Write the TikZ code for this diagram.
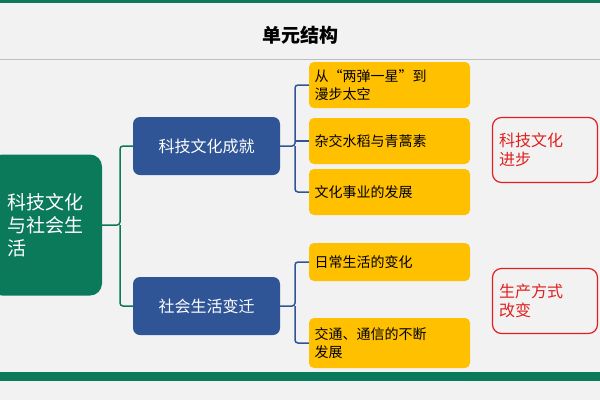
\documentclass[tikz,border=0pt]{standalone}
\usepackage{fontspec}
\newfontfamily\cjk{Noto Sans CJK SC}
\definecolor{bgray}{HTML}{F2F2F2}
\definecolor{dgreen}{HTML}{0B7A5A}
\definecolor{dblue}{HTML}{2F5597}
\definecolor{gold}{HTML}{FFC000}
\definecolor{dred}{HTML}{E02020}
\tikzset{
  rootbox/.style={fill=dgreen,rounded corners=12pt,text=white,font=\cjk\fontsize{19}{23}\selectfont,align=left,minimum width=112pt,minimum height=141pt,inner sep=2pt},
  topicbox/.style={fill=dblue,rounded corners=7pt,text=white,font=\cjk\fontsize{16}{19}\selectfont,minimum width=147pt,minimum height=58pt},
  itembox/.style={fill=gold,rounded corners=5pt,font=\cjk\fontsize{14}{18}\selectfont,align=left,minimum width=161pt,text width=150pt,inner sep=5pt},
  notebox/.style={draw=dred,line width=1.2pt,rounded corners=9pt,text=dred,font=\cjk\fontsize{16}{19}\selectfont,align=left,minimum width=105pt,minimum height=65pt,text width=92pt},
  gline/.style={draw=dgreen,line width=1.5pt,rounded corners=3pt},
  bline/.style={draw=dblue,line width=1.5pt,rounded corners=3pt}
}
\begin{document}
\begin{tikzpicture}[x=1pt,y=-1pt]
  \useasboundingbox (0,0) rectangle (600,400);
  \fill[bgray] (0,0) rectangle (600,400);
  \fill[dgreen] (0,0) rectangle (600,3);
  \draw[lightgray] (0,59) -- (600,59);
  \fill[dgreen] (0,372) rectangle (600,381);
  \node[font=\cjk\bfseries\fontsize{19}{23}\selectfont] (title) at (300,35) {单元结构};

  \node[rootbox] (root) at (46,225) {科技文化\\与社会生\\活};
  \node[topicbox] (tech) at (206.5,146) {科技文化成就};
  \node[topicbox] (life) at (206.5,306) {社会生活变迁};

  \node[itembox,minimum height=46pt] (i1) at (389.5,85) {从“两弹一星”到\\漫步太空};
  \node[itembox,minimum height=46pt] (i2) at (389.5,141) {杂交水稻与青蒿素};
  \node[itembox,minimum height=46pt] (i3) at (389.5,192) {文化事业的发展};
  \node[itembox,minimum height=38pt] (i4) at (389.5,262) {日常生活的变化};
  \node[itembox,minimum height=50pt] (i5) at (389.5,343) {交通、通信的不断\\发展};

  \node[notebox] (n1) at (545,150) {科技文化\\进步};
  \node[notebox] (n2) at (545,301) {生产方式\\改变};

  % brackets
  \draw[gline] (root.east) -- (120,225) |- (tech.west);
  \draw[gline] (120,225) |- (life.west);
  \draw[bline] (tech.east) -- (295,146) |- (i1.west);
  \draw[bline] (295,146) |- (i3.west);
  \draw[bline] (295,141) -- (i2.west);
  \draw[bline] (life.east) -- (295,306) |- (i4.west);
  \draw[bline] (295,306) |- (i5.west);
\end{tikzpicture}
\end{document}
